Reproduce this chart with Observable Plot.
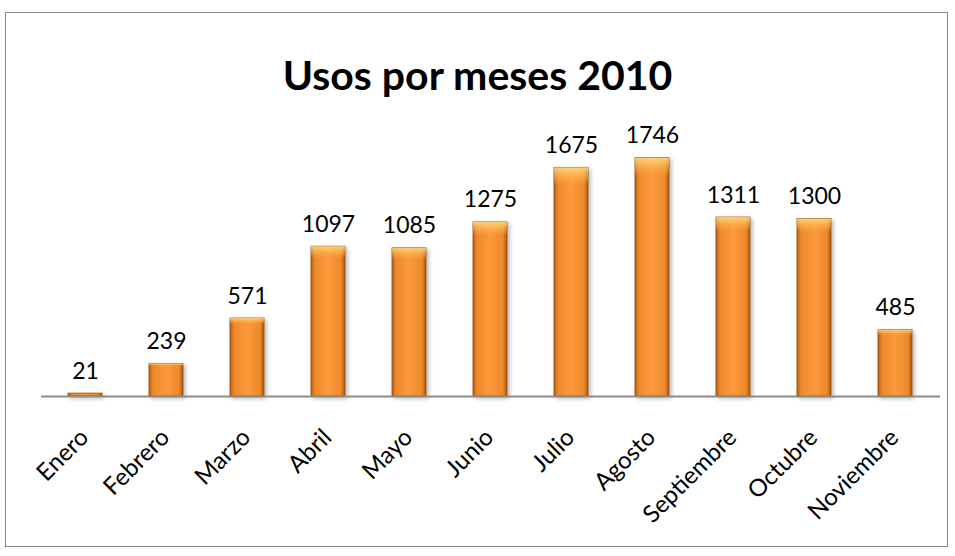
<!DOCTYPE html>
<html><head><meta charset="utf-8">
<script src="https://cdn.jsdelivr.net/npm/d3@7"></script>
<script src="https://cdn.jsdelivr.net/npm/@observablehq/plot@0.6"></script>
<style>
html,body{margin:0;padding:0;background:#fff;}
#wrap{position:relative;width:955px;height:556px;font-family:Lato,"Open Sans",sans-serif;}
#frame{position:absolute;left:5px;top:12px;width:943px;height:535px;border:1px solid #8a8a8a;box-sizing:border-box;}
#title{position:absolute;left:0;top:50px;width:955px;text-align:center;font-weight:bold;font-size:41px;color:#000;line-height:50px;}
#chart{position:absolute;left:0;top:0;}
</style></head>
<body>
<div id="wrap"><div id="frame"></div><div id="title">Usos por meses 2010</div><div id="chart"></div></div>
<script>
const months = ["Enero","Febrero","Marzo","Abril","Mayo","Junio","Julio","Agosto","Septiembre","Octubre","Noviembre"];
const usos = [21,239,571,1097,1085,1275,1675,1746,1311,1300,485];
const data = months.map((m,i)=>({mes:m, usos:usos[i]}));

const plot = Plot.plot({
  width:955, height:556,
  marginLeft:41, marginRight:15, marginTop:123, marginBottom:160,
  style:{background:"transparent", fontFamily:"Lato, 'Open Sans', sans-serif"},
  x:{domain:months, paddingInner:0.58, paddingOuter:0.29, label:null},
  y:{domain:[0,2000], axis:null},
  marks:[
    Plot.barY(data,{x:"mes", y:"usos", fill:"url(#barGrad)", stroke:"#8a4a10", strokeWidth:0.8, className:"mainbar"}),
    Plot.barY(data,{x:"mes", y:"usos", fill:"url(#barTop)"}),
    Plot.ruleY([0],{stroke:"#8c8c8c", strokeWidth:2}),
    Plot.axisX({tickSize:0, tickPadding:37, tickRotate:-45, fontSize:24, fill:"#000", label:null, dx:-1}),
    Plot.text(data,{x:"mes", y:"usos", text:d=>String(d.usos), lineAnchor:"bottom", dy:-15, fontSize:23, fill:"#000"})
  ]
});
const svg = d3.select(plot);
const defs = svg.insert("defs",":first-child");
const g = defs.append("linearGradient").attr("id","barGrad").attr("x1",0).attr("x2",1).attr("y1",0).attr("y2",0);
g.append("stop").attr("offset","0%").attr("stop-color","#b85f14");
g.append("stop").attr("offset","12%").attr("stop-color","#ee8a2c");
g.append("stop").attr("offset","50%").attr("stop-color","#fb9a3a");
g.append("stop").attr("offset","88%").attr("stop-color","#ee8a2c");
g.append("stop").attr("offset","100%").attr("stop-color","#a9560f");
const t = defs.append("linearGradient").attr("id","barTop").attr("x1",0).attr("x2",0).attr("y1",0).attr("y2",1);
t.append("stop").attr("offset","0%").attr("stop-color","#ffe08a").attr("stop-opacity",0.85);
t.append("stop").attr("offset","4%").attr("stop-color","#ffc060").attr("stop-opacity",0.5);
t.append("stop").attr("offset","8%").attr("stop-color","#ffb050").attr("stop-opacity",0);
t.append("stop").attr("offset","100%").attr("stop-color","#ffb050").attr("stop-opacity",0);
const f = defs.append("filter").attr("id","shadow").attr("x","-30%").attr("y","-10%").attr("width","160%").attr("height","130%");
f.append("feDropShadow").attr("dx",2).attr("dy",2).attr("stdDeviation",2).attr("flood-color","#000").attr("flood-opacity",0.3);
svg.selectAll(".mainbar").attr("filter","url(#shadow)");
document.getElementById("chart").appendChild(plot);
</script>
</body></html>
